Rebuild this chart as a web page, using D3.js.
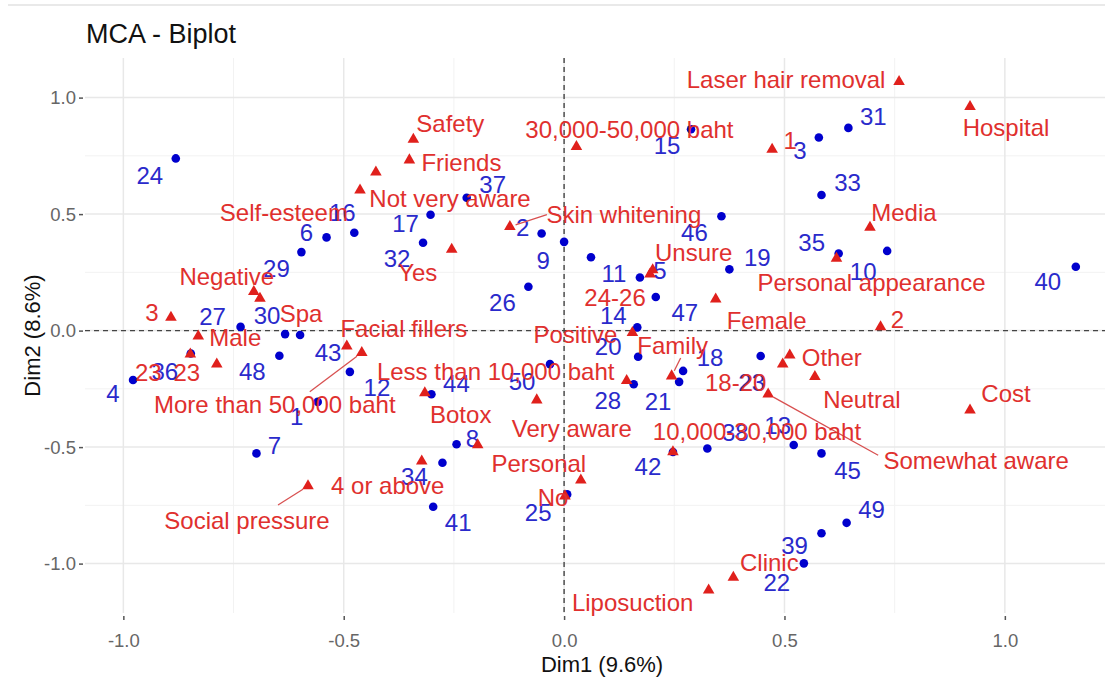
<!DOCTYPE html>
<html>
<head>
<meta charset="utf-8">
<script src="https://cdn.jsdelivr.net/npm/d3@7"></script>
<style>
  html, body { margin: 0; padding: 0; background: #ffffff; }
  svg { display: block; font-family: "Liberation Sans", Arial, Helvetica, sans-serif; }
</style>
</head>
<body>
<script>
// ---------------- DATA ----------------
const xTickValues = [-1.0, -0.5, 0.0, 0.5, 1.0];
const xTickLabels = ["-1.0", "-0.5", "0.0", "0.5", "1.0"];
const yTickValues = [-1.0, -0.5, 0.0, 0.5, 1.0];
const yTickLabels = ["-1.0", "-0.5", "0.0", "0.5", "1.0"];
const minorBreaks = [-1.25, -0.75, -0.25, 0.25, 0.75, 1.25];

// Individuals (blue)
const indIds = ["1","2","3","4","5","6","7","8","9","10",
  "11","12","13","14","15","16","17","18","19","20",
  "21","22","23","24","25","26","27","28","29","30",
  "31","32","33","34","35","36","37","38","39","40",
  "41","42","43","44","45","46","47","48","49","50"];
const indDim1 = [-0.559,-0.051,0.578,-0.978,0.061,-0.539,-0.698,-0.244,0.000,0.733,
  0.172,-0.486,0.521,0.166,0.288,-0.476,-0.303,0.270,0.375,0.168,
  0.261,0.544,0.446,-0.881,0.007,-0.081,-0.734,0.158,-0.596,-0.633,
  0.645,-0.320,0.584,-0.276,0.623,-0.847,-0.221,0.325,0.584,1.161,
  -0.297,0.247,-0.599,-0.301,0.584,0.357,0.208,-0.646,0.641,-0.032];
const indDim2 = [-0.306,0.417,0.829,-0.212,0.315,0.400,-0.527,-0.488,0.381,0.342,
  0.228,-0.177,-0.491,0.014,0.864,0.420,0.497,-0.173,0.263,-0.112,
  -0.220,-0.999,-0.109,0.739,-0.703,0.188,0.016,-0.230,0.337,-0.015,
  0.870,0.377,0.582,-0.567,0.331,-0.098,0.570,-0.506,-0.870,0.274,
  -0.756,-0.521,-0.019,-0.273,-0.527,0.491,0.144,-0.108,-0.825,-0.144];

// Variable categories (red)
const catNames = ["Laser hair removal","Hospital","Safety","Friends","30,000-50,000 baht",
  "1","Self-esteem","Not very aware","Skin whitening","Media",
  "Unsure","24-26","Yes","Negative","Spa",
  "Personal appearance","3","Male","2","Facial fillers",
  "More than 50,000 baht","23","23","Positive","Family",
  "Female","Less than 10,000 baht","","Very aware","Other",
  "18-20","Neutral","Somewhat aware","Cost","Botox",
  "4 or above","Social pressure","Personal","No","10,000-30,000 baht",
  "Clinic","Liposuction"];
const catDim1 = [0.760,0.921,-0.342,-0.351,0.028,
  0.472,-0.427,-0.463,-0.123,0.694,
  0.201,0.195,-0.255,-0.704,-0.690,
  0.618,-0.892,-0.830,0.718,-0.493,
  -0.459,-0.788,-0.848,0.155,0.244,
  0.344,0.142,-0.316,-0.062,0.512,
  0.496,0.569,0.463,0.921,-0.196,
  -0.323,-0.581,0.038,0.002,0.247,
  0.384,0.328];
const catDim2 = [1.068,0.961,0.821,0.732,0.789,
  0.778,0.680,0.603,0.446,0.443,
  0.260,0.242,0.348,0.167,0.138,
  0.310,0.057,-0.024,0.016,-0.067,
  -0.095,-0.144,-0.101,-0.009,-0.195,
  0.135,-0.215,-0.267,-0.298,-0.105,
  -0.144,-0.198,-0.273,-0.341,-0.491,
  -0.560,-0.667,-0.642,-0.710,-0.521,
  -1.059,-1.114];

// ---------------- LAYOUT (label placement, px) ----------------
const indLabelOffsets = [[-21,15],[-19,-6],[-19,13],[-20,13],[69,13],[-20,-5],[18,-8],[16,-6],[-21,19],[-24,21],
  [-26,-4],[27,16],[-16,-20],[-24,-12],[-24,16],[-12,-20],[-25,9],[27,-13],[28,-12],[-30,-10],
  [-21,20],[-27,19],[-9,26],[-26,17],[-29,18],[-26,16],[-28,-10],[-26,16],[-25,16],[-18,-19],
  [25,-11],[-26,16],[26,-13],[-28,14],[-27,-11],[-26,18],[26,-13],[28,-16],[-27,12],[-28,15],
  [25,16],[-25,15],[28,17],[25,-11],[26,17],[-27,16],[29,15],[-27,16],[25,-13],[-28,17]];
const catLabelOffsets = [[-113,-2],[36,21],[37,-16],[52,2],[53,-17],
  [18,-9],[-92,40],[90,8],[114,-12],[34,-15],
  [41,-18],[-35,23],[-34,23],[-27,-15],[41,15],
  [35,24],[-19,-5],[37,1],[17,-7],[57,-18],
  [-87,52],[-30,8],[-42,18],[-57,2],[1,-31],
  [51,21],[-131,-9],[0,0],[35,28],[42,2],
  [-47,18],[47,23],[208,66],[36,-17],[-17,-31],
  [-34,24],[-61,34],[-42,-17],[-12,1],[84,-20],
  [36,-15],[-76,12]];
// segment start relative to label centre (only for repelled labels)
const catSegmentStarts = {
  "Skin whitening": [-77, 0],
  "More than 50,000 baht": [35, -13],
  "Family": [8, 13],
  "Somewhat aware": [-98, -5],
  "Social pressure": [31, -15]
};

// ---------------- DRAW ----------------
const W = 1105, H = 679;
const panel = {left: 85, right: 1119, top: 58, bottom: 613};
const svg = d3.select("body").append("svg").attr("width", W).attr("height", H);

const x = d3.scaleLinear().domain([-1.087, 1.259]).range([panel.left, panel.right]);
const y = d3.scaleLinear().domain([-1.212, 1.170]).range([panel.bottom, panel.top]);

// faint top rule of the screenshot
svg.append("line").attr("x1", 8).attr("x2", W).attr("y1", 5).attr("y2", 5)
  .attr("stroke", "#e2e2e2").attr("stroke-width", 1.5);

// title
svg.append("text").attr("x", 86).attr("y", 43).attr("font-size", 27).attr("fill", "#111")
  .text("MCA - Biplot");

const grid = svg.append("g");
const inX = v => x(v) >= panel.left && x(v) <= panel.right;
const inY = v => y(v) >= panel.top && y(v) <= panel.bottom;
// minor grid
grid.selectAll(".mx").data(minorBreaks.filter(inX)).join("line")
  .attr("x1", d => x(d)).attr("x2", d => x(d)).attr("y1", panel.top).attr("y2", panel.bottom)
  .attr("stroke", "#f2f2f2").attr("stroke-width", 1);
grid.selectAll(".my").data(minorBreaks.filter(inY)).join("line")
  .attr("y1", d => y(d)).attr("y2", d => y(d)).attr("x1", panel.left).attr("x2", panel.right)
  .attr("stroke", "#f2f2f2").attr("stroke-width", 1);
// major grid
grid.selectAll(".Mx").data(xTickValues).join("line")
  .attr("x1", d => x(d)).attr("x2", d => x(d)).attr("y1", panel.top).attr("y2", panel.bottom)
  .attr("stroke", "#e8e8e8").attr("stroke-width", 1.5);
grid.selectAll(".My").data(yTickValues).join("line")
  .attr("y1", d => y(d)).attr("y2", d => y(d)).attr("x1", panel.left).attr("x2", panel.right)
  .attr("stroke", "#e8e8e8").attr("stroke-width", 1.5);

// axes via d3-axis
const xAxis = d3.axisBottom(x).tickValues(xTickValues).tickFormat((d, i) => xTickLabels[i])
  .tickSize(4).tickPadding(14);
const gx = svg.append("g").attr("transform", `translate(0,${panel.bottom + 3})`).call(xAxis);
gx.select(".domain").remove();
gx.selectAll("line").attr("stroke", "#555").attr("stroke-width", 1.5);
gx.selectAll("text").attr("font-size", 18.5).attr("fill", "#666").attr("font-family", "Liberation Sans, Arial, sans-serif");

const yAxis = d3.axisLeft(y).tickValues(yTickValues).tickFormat((d, i) => yTickLabels[i])
  .tickSize(4).tickPadding(3);
const gy = svg.append("g").attr("transform", `translate(${panel.left - 2},0)`).call(yAxis);
gy.select(".domain").remove();
gy.selectAll("line").attr("stroke", "#555").attr("stroke-width", 1.5);
gy.selectAll("text").attr("font-size", 18.5).attr("fill", "#666").attr("font-family", "Liberation Sans, Arial, sans-serif");

// axis titles
svg.append("text").attr("x", (panel.left + panel.right) / 2).attr("y", 672)
  .attr("text-anchor", "middle").attr("font-size", 22).attr("fill", "#111").text("Dim1 (9.6%)");
svg.append("text").attr("transform", `translate(40,${(panel.top + panel.bottom) / 2}) rotate(-90)`)
  .attr("text-anchor", "middle").attr("font-size", 22).attr("fill", "#111").text("Dim2 (8.6%)");

// zero reference lines
svg.append("line").attr("x1", x(0)).attr("x2", x(0)).attr("y1", panel.top).attr("y2", panel.bottom)
  .attr("stroke", "#444").attr("stroke-width", 1.4).attr("stroke-dasharray", "5,4");
svg.append("line").attr("y1", y(0)).attr("y2", y(0)).attr("x1", panel.left).attr("x2", panel.right)
  .attr("stroke", "#444").attr("stroke-width", 1.4).attr("stroke-dasharray", "5,4");

// individuals
const BLUE = "#0000cd", BLUE_TXT = "#2a2acb";
const RED = "#e0201c", RED_TXT = "#e0302e";
const inds = indIds.map((id, i) => ({id, d1: indDim1[i], d2: indDim2[i], off: indLabelOffsets[i]}));
svg.append("g").selectAll("circle").data(inds).join("circle")
  .attr("cx", d => x(d.d1)).attr("cy", d => y(d.d2)).attr("r", 4.3).attr("fill", BLUE);
svg.append("g").selectAll("text").data(inds).join("text")
  .attr("x", d => x(d.d1) + d.off[0]).attr("y", d => y(d.d2) + d.off[1])
  .attr("text-anchor", "middle").attr("dominant-baseline", "central")
  .attr("font-size", 24).attr("fill", BLUE_TXT).text(d => d.id);

// categories
const cats = catNames.map((n, i) => ({name: n, d1: catDim1[i], d2: catDim2[i], off: catLabelOffsets[i]}));
const tri = d3.symbol().type(d3.symbolTriangle).size(58);
// segments
const segG = svg.append("g");
cats.filter(c => catSegmentStarts[c.name]).forEach(c => {
  const px = x(c.d1), py = y(c.d2);
  const sx = px + c.off[0] + catSegmentStarts[c.name][0];
  const sy = py + c.off[1] + catSegmentStarts[c.name][1];
  const dx = px - sx, dy = py - sy, len = Math.hypot(dx, dy);
  const ex = px - dx / len * 6, ey = py - dy / len * 6;
  segG.append("line").attr("x1", sx).attr("y1", sy).attr("x2", ex).attr("y2", ey)
    .attr("stroke", "#d85050").attr("stroke-width", 1.3);
});
svg.append("g").selectAll("path").data(cats).join("path")
  .attr("d", tri).attr("transform", d => `translate(${x(d.d1)},${y(d.d2)})`).attr("fill", RED);
svg.append("g").selectAll("text").data(cats.filter(c => c.name !== "")).join("text")
  .attr("x", d => x(d.d1) + d.off[0]).attr("y", d => y(d.d2) + d.off[1])
  .attr("text-anchor", "middle").attr("dominant-baseline", "central")
  .attr("font-size", 24).attr("fill", RED_TXT).text(d => d.name);
</script>
</body>
</html>
